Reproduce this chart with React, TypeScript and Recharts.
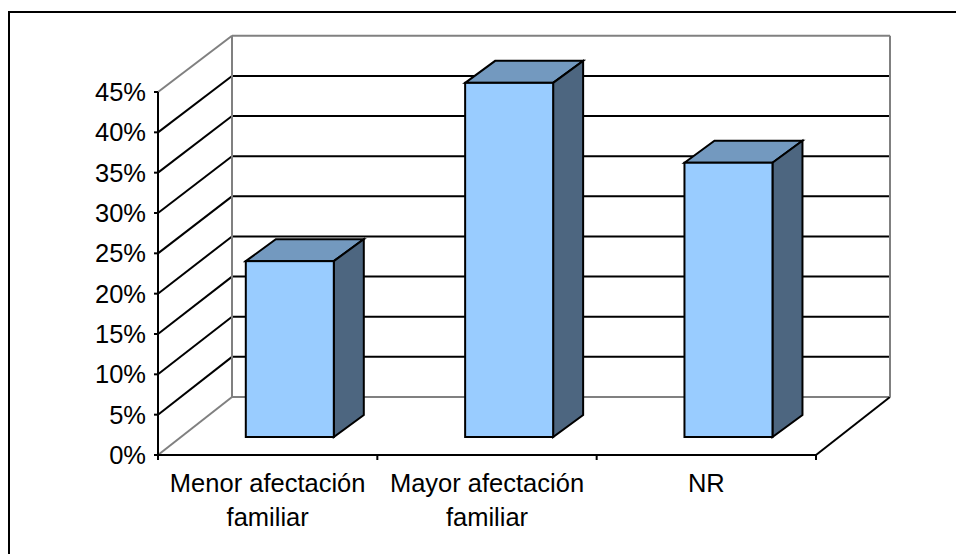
import React from "react";
import { BarChart, Bar, XAxis, YAxis, CartesianGrid } from "recharts";

const categories = ["Menor afectación familiar", "Mayor afectación familiar", "NR"];
const percentages = [21.8, 43.9, 34];
const yTicks = [0, 5, 10, 15, 20, 25, 30, 35, 40, 45];

const data = categories.map((name, i) => ({ name, value: percentages[i] }));

const WIDTH = 956;
const HEIGHT = 554;
const PLOT_LEFT = 158;
const PLOT_RIGHT = 816;
const PLOT_TOP = 92;
const PLOT_BOTTOM = 455;
const AXIS_W = 60;
const STEP = (PLOT_RIGHT - PLOT_LEFT) / categories.length;

// how far the back wall sits behind the front axes
const WALL_DX = 74;
const WALL_DY = 58;
const WALL_SCALE = 0.995; // back wall is a touch shorter than the front axis
// where the bars stand on the floor, and how deep they are
const BAR_DX = 22;
const BAR_DY = 18;
const DEPTH_DX = 30;
const DEPTH_DY = 22;

const LINE = 2;
const WALL_GRAY = "#808080";
const FONT = "'Liberation Sans', Arial, sans-serif";
const FONT_SIZE = 25.5;

function WallLine(props: any) {
  const { x1, x2, y1, y, height } = props;
  const floor = y + height;
  const isTop = Math.abs(y1 - y) < 0.5;
  const isBottom = Math.abs(y1 - floor) < 0.5;
  const color = isTop || isBottom ? WALL_GRAY : "#000";
  const backY = floor - WALL_DY - (floor - y1) * WALL_SCALE;
  return (
    <g key={props.key ?? y1} fill="none" strokeWidth={LINE}>
      <line x1={x1} y1={y1} x2={x1 + WALL_DX} y2={backY} stroke={color} />
      <line x1={x1 + WALL_DX} y1={backY} x2={x2 + WALL_DX} y2={backY} stroke={color} />
      {isTop && (
        <>
          <line x1={x1 + WALL_DX} y1={backY} x2={x1 + WALL_DX} y2={floor - WALL_DY} stroke={WALL_GRAY} />
          <line x1={x2 + WALL_DX} y1={backY} x2={x2 + WALL_DX} y2={floor - WALL_DY} stroke={WALL_GRAY} />
        </>
      )}
      {isBottom && <line x1={x2} y1={y1} x2={x2 + WALL_DX} y2={backY} stroke="#000" />}
    </g>
  );
}

function Box3D(props: any) {
  const { width, height } = props;
  const x = props.x + BAR_DX;
  const y = props.y - BAR_DY;
  const right = x + width;
  const bottom = y + height;
  return (
    <g stroke="#000" strokeWidth={LINE} strokeLinejoin="miter">
      <path
        d={`M${x},${y} L${x + DEPTH_DX},${y - DEPTH_DY} L${right + DEPTH_DX},${y - DEPTH_DY} L${right},${y} Z`}
        fill="#7399BF"
      />
      <path
        d={`M${right},${y} L${right + DEPTH_DX},${y - DEPTH_DY} L${right + DEPTH_DX},${bottom - DEPTH_DY} L${right},${bottom} Z`}
        fill="#4D6680"
      />
      <rect x={x} y={y} width={width} height={height} fill="#99CCFF" />
    </g>
  );
}

function CategoryTick(props: any) {
  const { x, index, payload } = props;
  const words = String(payload.value);
  const lines = words.endsWith("familiar") ? [words.replace(" familiar", ""), "familiar"] : [words];
  const left = x - STEP / 2;
  const tickTop = PLOT_BOTTOM;
  return (
    <g>
      <line x1={left} y1={tickTop} x2={left} y2={tickTop + 5} stroke="#000" strokeWidth={LINE} />
      {index === categories.length - 1 && (
        <line x1={x + STEP / 2} y1={tickTop} x2={x + STEP / 2} y2={tickTop + 5} stroke="#000" strokeWidth={LINE} />
      )}
      <text textAnchor="middle" fontFamily={FONT} fontSize={FONT_SIZE} fill="#000">
        {lines.map((line, i) => (
          <tspan key={line} x={x} y={PLOT_BOTTOM + 37 + i * 34}>
            {line}
          </tspan>
        ))}
      </text>
    </g>
  );
}

export default function App() {
  return (
    <div style={{ position: "absolute", left: 0, top: 0, width: WIDTH, height: HEIGHT, background: "#fff" }}>
      <div
        style={{
          position: "absolute",
          left: 8,
          top: 11,
          right: 0,
          bottom: 0,
          borderTop: "2px solid #000",
          borderLeft: "2px solid #000",
        }}
      />
      <BarChart
        width={WIDTH}
        height={HEIGHT}
        data={data}
        barCategoryGap="30%"
        margin={{ left: PLOT_LEFT - AXIS_W, right: WIDTH - PLOT_RIGHT, top: PLOT_TOP, bottom: 0 }}
      >
        <CartesianGrid vertical={false} horizontal={(p: any) => <WallLine {...p} />} />
        <XAxis
          dataKey="name"
          height={HEIGHT - PLOT_BOTTOM}
          interval={0}
          tickLine={false}
          axisLine={{ stroke: "#000", strokeWidth: LINE }}
          tick={<CategoryTick />}
        />
        <YAxis
          width={AXIS_W}
          domain={[0, 45]}
          ticks={yTicks}
          interval={0}
          tickSize={4}
          tickMargin={8}
          tickFormatter={(v: number) => `${v}%`}
          axisLine={{ stroke: "#000", strokeWidth: LINE }}
          tickLine={{ stroke: "#000", strokeWidth: LINE }}
          tick={{ fill: "#000", fontSize: FONT_SIZE, fontFamily: FONT }}
        />
        <Bar dataKey="value" isAnimationActive={false} shape={<Box3D />} />
      </BarChart>
    </div>
  );
}
